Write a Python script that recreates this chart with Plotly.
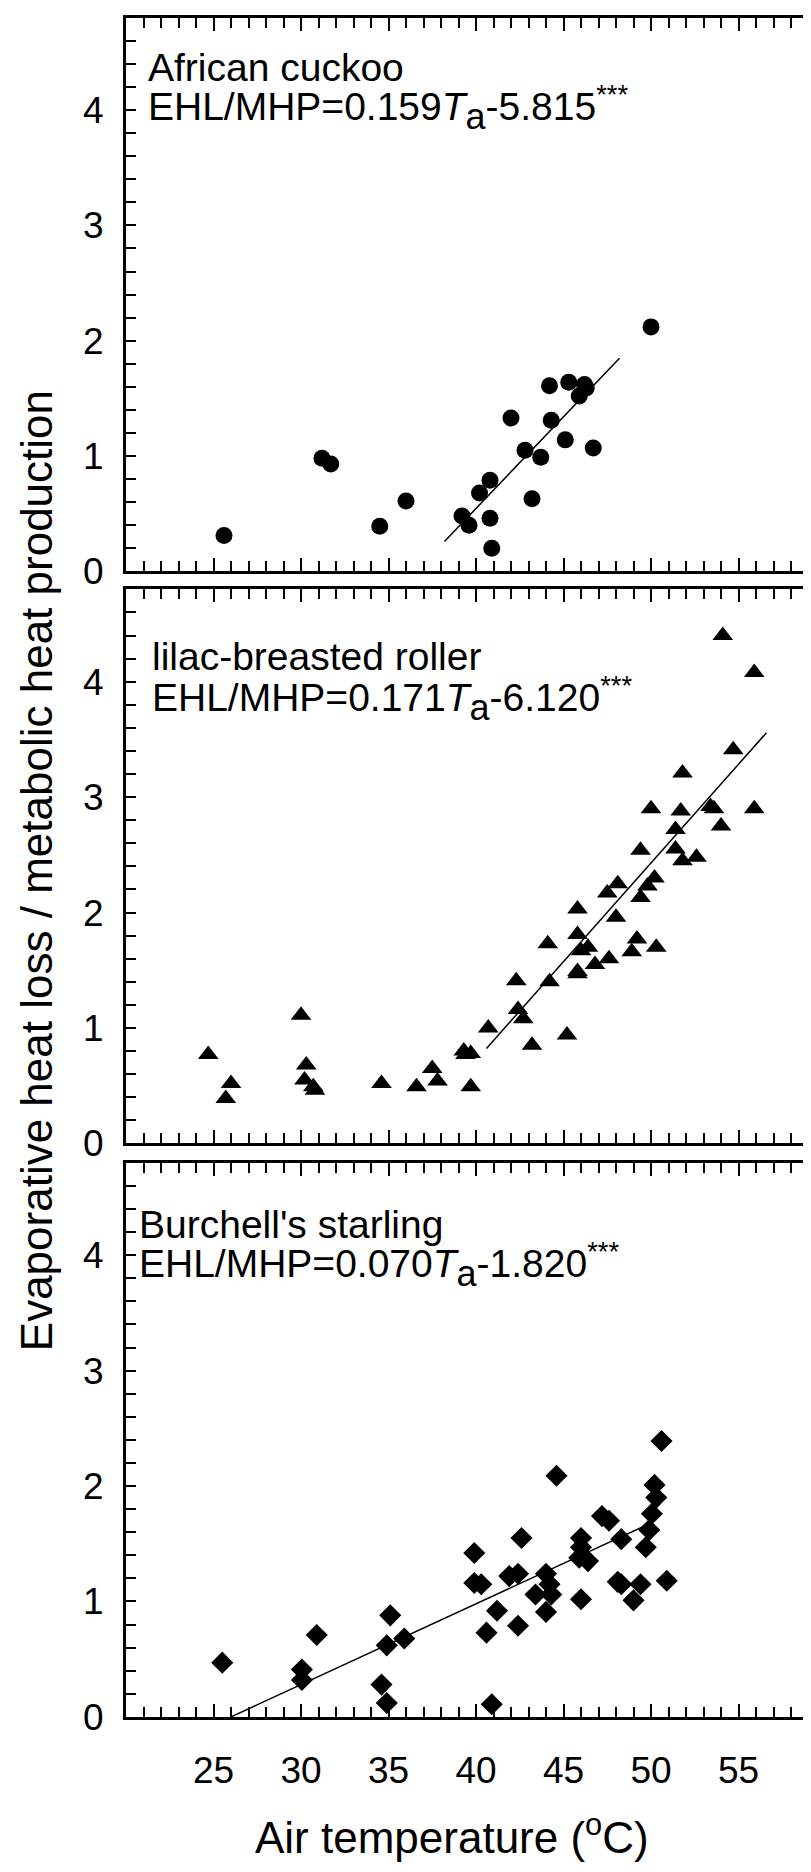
import plotly.graph_objects as go

W, H = 811, 1872

# ---------------- data ----------------
cuckoo_ta = [25.6, 31.2, 31.7, 34.5, 36.0, 39.2, 39.6, 40.2, 40.8, 40.8, 40.9, 42.0,
             42.8, 43.2, 43.7, 44.2, 44.3, 45.1, 45.3, 45.9, 46.2, 46.3, 46.7, 50.0]
cuckoo_ratio = [0.31, 0.98, 0.93, 0.39, 0.61, 0.48, 0.40, 0.68, 0.79, 0.46, 0.20, 1.33,
                1.05, 0.63, 0.99, 1.61, 1.31, 1.14, 1.64, 1.52, 1.62, 1.59, 1.07, 2.12]

roller_ta = [24.7, 25.7, 26.0, 30.0, 30.3, 30.2, 30.7, 30.8, 34.6, 36.6, 37.5, 37.8,
             39.3, 39.4, 39.7, 39.7, 40.7, 42.3, 42.4, 42.7, 43.2, 44.1, 44.2, 45.2,
             45.8, 45.8, 45.8, 45.8, 46.0, 46.4, 46.8, 47.5, 48.1, 48.0, 47.6, 48.9,
             49.2, 49.4, 49.4, 49.8, 50.2, 50.3, 50.0, 51.4, 51.4, 51.7, 51.8, 51.8,
             52.6, 53.4, 53.6, 54.0, 54.1, 54.7, 55.9, 55.9]
roller_ratio = [0.77, 0.39, 0.52, 1.11, 0.68, 0.55, 0.49, 0.46, 0.52, 0.49, 0.65, 0.54,
                0.80, 0.77, 0.78, 0.49, 1.00, 1.41, 1.16, 1.08, 0.85, 1.73, 1.40, 0.94,
                2.03, 1.81, 1.49, 1.47, 1.67, 1.70, 1.55, 2.17, 2.25, 1.96, 1.60, 1.66,
                1.77, 2.54, 2.13, 2.23, 2.30, 1.70, 2.90, 2.72, 2.55, 2.88, 2.45, 3.21,
                2.48, 2.92, 2.90, 2.75, 4.40, 3.41, 4.08, 2.90]

starling_ta = [25.5, 30.05, 30.05, 30.9, 34.6, 34.9, 34.9, 35.1, 35.9, 39.9, 39.9, 40.3,
               40.6, 40.9, 41.2, 41.9, 42.4, 42.4, 42.6, 43.4, 44.0, 44.0, 44.2, 44.3,
               44.6, 46.0, 46.0, 45.9, 46.4, 46.0, 47.2, 47.6, 48.3, 48.1, 48.3, 49.0,
               49.4, 49.7, 49.9, 50.05, 50.2, 50.3, 50.6, 50.9]
starling_ratio = [0.47, 0.41, 0.32, 0.71, 0.28, 0.12, 0.62, 0.88, 0.68, 1.42, 1.16, 1.15,
                  0.73, 0.11, 0.92, 1.22, 1.24, 0.79, 1.55, 1.06, 1.24, 0.91, 1.15, 1.06,
                  2.09, 1.55, 1.47, 1.38, 1.35, 1.02, 1.74, 1.70, 1.54, 1.17, 1.15, 1.01,
                  1.15, 1.47, 1.62, 1.76, 2.01, 1.90, 2.39, 1.18]

species = ["African cuckoo", "lilac-breasted roller", "Burchell's starling"]
slopes = [0.159, 0.171, 0.070]
intercepts = [-5.815, -6.120, -1.820]
fit_x_ranges = [[38.2, 48.2], [40.6, 56.6], [26.0, 49.9]]
SUB_A = '<sub><span style="font-size:36px">a</span></sub>'
equation_labels = ["EHL/MHP=0.159<i>T</i>" + SUB_A + "-5.815<sup>***</sup>",
                   "EHL/MHP=0.171<i>T</i>" + SUB_A + "-6.120<sup>***</sup>",
                   "EHL/MHP=0.070<i>T</i>" + SUB_A + "-1.820<sup>***</sup>"]
x_tick_vals = [25, 30, 35, 40, 45, 50, 55]
y_tick_vals = [0, 1, 2, 3, 4]

# ---------------- layout constants (pixels) ----------------
FONT = "Liberation Sans, Arial, sans-serif"
LEFT = 118
panel_px = [(10, 569.7), (588, 1148.3), (1168, 1728.3)]
symbols = ["circle", "triangle-up", "diamond"]
msizes = [17, 18, 17]
text_left = [139, 143, 130]
name_mid = [60, 656, 1230]
eq_mid = [101, 699, 1271]

def fy(py):
    return 1 - py / H

def fx(px):
    return px / W

fig = go.Figure()
xs = [cuckoo_ta, roller_ta, starling_ta]
ys = [cuckoo_ratio, roller_ratio, starling_ratio]

annotations = []
for i in range(3):
    xa = "x" if i == 0 else f"x{i+1}"
    ya = "y" if i == 0 else f"y{i+1}"
    fig.add_trace(go.Scatter(x=xs[i], y=ys[i], mode="markers", xaxis=xa, yaxis=ya,
                             marker=dict(symbol=symbols[i], size=msizes[i], color="black",
                                         line=dict(width=0)),
                             showlegend=False, hoverinfo="skip"))
    lx = fit_x_ranges[i]
    ly = [slopes[i] * v + intercepts[i] for v in lx]
    fig.add_trace(go.Scatter(x=lx, y=ly, mode="lines", xaxis=xa, yaxis=ya,
                             line=dict(color="black", width=1.5),
                             showlegend=False, hoverinfo="skip"))
    top, bot = panel_px[i]
    axkey = "xaxis" if i == 0 else f"xaxis{i+1}"
    aykey = "yaxis" if i == 0 else f"yaxis{i+1}"
    fig.update_layout(**{
        axkey: dict(domain=[fx(LEFT), 1], anchor=ya, range=[20, 20 + (W - LEFT) / 17.5],
                    showline=True, linewidth=3, linecolor="black", mirror="ticks",
                    ticks="inside", ticklen=13, tickwidth=2, tickcolor="black",
                    tickmode="array", tickvals=x_tick_vals,
                    showticklabels=(i == 2), ticklabelstandoff=19,
                    tickfont=dict(family=FONT, size=37, color="black"),
                    minor=dict(ticks="inside", ticklen=10, tickwidth=2, tickcolor="black",
                               tickmode="linear", tick0=20, dtick=1, showgrid=False),
                    showgrid=False, zeroline=False, fixedrange=True),
        aykey: dict(domain=[fy(bot), fy(top)], anchor=xa, range=[0, 4.8],
                    showline=True, linewidth=3, linecolor="black", mirror=False,
                    ticks="inside", ticklen=10, tickwidth=2, tickcolor="black",
                    tickmode="array", tickvals=y_tick_vals, ticklabelstandoff=12,
                    tickfont=dict(family=FONT, size=37, color="black"),
                    minor=dict(ticks="inside", ticklen=10, tickwidth=2, tickcolor="black",
                               tickmode="linear", tick0=0, dtick=0.2, showgrid=False),
                    showgrid=False, zeroline=False, fixedrange=True),
    })
    annotations.append(dict(text=species[i], xref="paper", yref="paper",
                            x=fx(text_left[i]), y=fy(name_mid[i]),
                            xanchor="left", yanchor="middle", showarrow=False,
                            borderpad=0, font=dict(family=FONT, size=39, color="black")))
    annotations.append(dict(text=equation_labels[i], xref="paper", yref="paper",
                            x=fx(text_left[i]), y=fy(eq_mid[i]),
                            xanchor="left", yanchor="middle", showarrow=False,
                            borderpad=0, font=dict(family=FONT, size=39, color="black")))

annotations.append(dict(text="Evaporative heat loss / metabolic heat production",
                        xref="paper", yref="paper", x=fx(28), y=fy(873),
                        xanchor="center", yanchor="middle", textangle=-90, showarrow=False,
                        font=dict(family=FONT, size=44, color="black")))
annotations.append(dict(text="Air temperature (<sup>o</sup>C)",
                        xref="paper", yref="paper", x=fx(444), y=fy(1847),
                        xanchor="center", yanchor="middle", showarrow=False,
                        font=dict(family=FONT, size=44, color="black")))

fig.update_layout(width=W, height=H, margin=dict(l=0, r=0, t=0, b=0),
                  paper_bgcolor="white", plot_bgcolor="white",
                  annotations=annotations, showlegend=False)

fig.write_html("out.html")
